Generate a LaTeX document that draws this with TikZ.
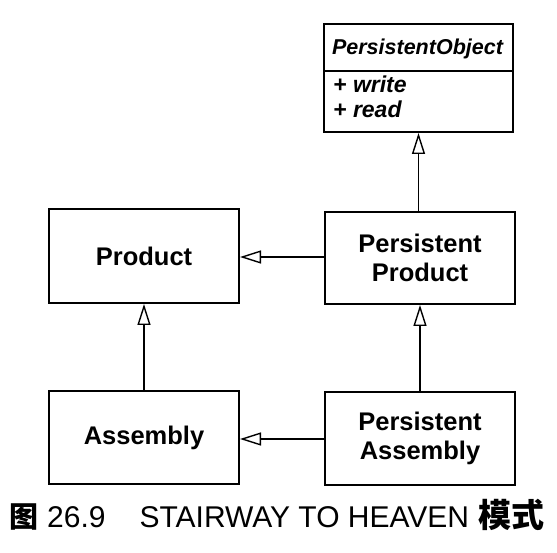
\documentclass[tikz,border=0pt]{standalone}
\usepackage{fontspec}
\setmainfont{Liberation Sans}
\newfontfamily\cjk{Noto Sans CJK SC}
\usetikzlibrary{arrows.meta}
\tikzset{
  classbox/.style={draw=black, line width=2pt, fill=white, inner sep=0pt, align=center,
    minimum width=190pt, font=\fontsize{25.5pt}{28.5pt}\selectfont\bfseries},
  inherit/.style={draw=black, line width=1.4pt, -{Triangle[open, length=21pt, width=13pt, line width=1.4pt]}},
  member/.style={anchor=base west, inner sep=0pt, font=\fontsize{23pt}{24pt}\selectfont\bfseries\itshape},
}
\begin{document}
\begin{tikzpicture}[x=1pt,y=1pt]
\useasboundingbox (0,0) rectangle (557,-553);
% PersistentObject
\node[classbox, minimum width=189pt, minimum height=108pt] (po) at (418.5,-78) {};
\draw[line width=2pt] (po.west |- 0,-71) -- (po.east |- 0,-71);
\node[anchor=base, font=\fontsize{21.5pt}{24pt}\selectfont\bfseries\itshape, inner sep=0pt] (potitle) at (417.5,-55) {PersistentObject};
\node[member] (pow) at (333,-93) {+ write};
\node[member] (por) at (333,-118) {+ read};
% boxes
\node[classbox, minimum height=94pt] (prod) at (144,-256) {Product};
\node[classbox, minimum height=92pt] (pp) at (420,-258) {Persistent\\Product};
\node[classbox, minimum height=93pt] (asm) at (144,-437.5) {Assembly};
\node[classbox, minimum height=93pt] (pa) at (420,-438.5) {Persistent\\Assembly};
% connectors
\draw[inherit] (pp.north -| po.south) -- (po.south);
\draw[inherit] (pp.west |- 0,-257) -- (prod.east |- 0,-257);
\draw[inherit] (pa.north) -- (pp.south);
\draw[inherit] (asm.north) -- (prod.south);
\draw[inherit] (pa.west |- 0,-439) -- (asm.east |- 0,-439);
% caption
\node[anchor=base west, inner sep=0pt, font=\fontsize{30pt}{32pt}\selectfont] (cap) at (9,-527)
  {{\fontsize{29pt}{30pt}\selectfont\cjk\bfseries 图}\hspace{9pt}26.9\hspace{34pt}STAIRWAY TO HEAVEN\hspace{9pt}{\fontsize{33pt}{34pt}\selectfont\cjk\bfseries 模式}};
\end{tikzpicture}
\end{document}
